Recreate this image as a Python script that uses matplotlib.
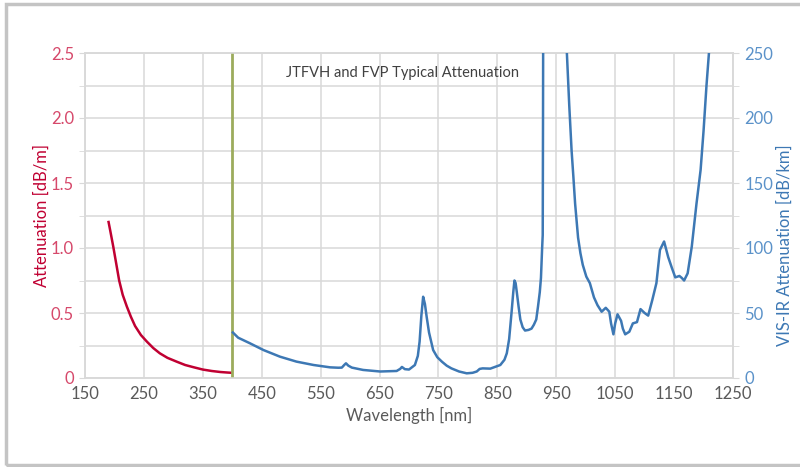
import matplotlib
matplotlib.use("Agg")
import matplotlib.pyplot as plt
from matplotlib.patches import Rectangle
from matplotlib.ticker import MultipleLocator, FuncFormatter

plt.rcParams['font.family'] = ['Lato', 'DejaVu Sans']

# 紫外域 (dB/m)
red_wl = [190, 193, 198, 203, 208, 214, 221, 228, 235, 245, 255, 266, 277, 290,
          306, 320, 335, 350, 365, 380, 392, 399]
red_val = [1.20, 1.13, 1.01, 0.88, 0.75, 0.64, 0.55, 0.47, 0.40, 0.33, 0.28, 0.23,
           0.19, 0.155, 0.125, 0.10, 0.082, 0.065, 0.054, 0.046, 0.042, 0.040]

# 可視-赤外域 (dB/km)
blue_wl = [401, 410, 430, 453, 481, 509, 538, 566, 580, 586, 590, 593, 597, 603,
           622, 651, 679, 685, 688, 693, 700, 710, 715, 718, 721, 724, 727, 730,
           734, 741, 748, 756, 764, 772, 785, 798, 808, 815, 820, 825, 838, 855,
           862, 866, 870, 874, 877, 879, 881, 883, 886, 889, 893, 897, 903, 908,
           912, 916, 919, 922, 924, 926, 927, 927.5, 928, 966, 968, 972, 976, 979,
           982, 987, 991, 995, 1001, 1007, 1014, 1020, 1027, 1034, 1040, 1043,
           1047, 1050, 1054, 1060, 1063, 1067, 1074, 1080, 1087, 1093, 1100, 1106,
           1113, 1120, 1126, 1133, 1140, 1146, 1152, 1159, 1163, 1167, 1173, 1180,
           1188, 1195, 1200, 1205, 1210, 1213]
blue_val = [35, 31, 26.7, 21.5, 16.4, 12.6, 10, 8.2, 7.9, 8, 10, 11.3, 9.5, 8,
            6.2, 5, 5.4, 7, 8.5, 6.8, 6.5, 10, 17, 28, 48, 62.5, 57, 47,
            35, 21.5, 16, 12.5, 9.5, 7.4, 5, 3.6, 4, 5, 7, 7.4, 7.2, 10,
            14, 19, 30, 50, 66, 75, 73, 66, 55, 45, 39, 36.5, 37, 38,
            41, 45, 55, 66, 77, 100, 110, 200, 320, 320, 250, 210, 175, 155,
            134, 108, 96, 87, 78, 73, 62, 56, 51, 54, 51, 42,
            33.6, 42, 49, 44, 38, 33.6, 35.6, 42, 43, 53, 50, 48,
            60, 73, 98.5, 105, 93, 85, 77.4, 78.5, 77, 75, 80.5, 101,
            134, 160, 190, 225, 255, 290]

x_ticks = [150, 250, 350, 450, 550, 650, 750, 850, 950, 1050, 1150, 1250]
divider_wl = 400

RED = '#C00032'
RED_TXT = '#D6496B'
BLUE = '#3D78B4'
BLUE_TXT = '#5B92C9'
GRID = '#D9D9D9'
TXT = '#5A5A5A'

fig = plt.figure(figsize=(8, 4.67), dpi=100)
ax = fig.add_axes([85/800, 89/467, 648/800, 325/467])
ax2 = ax.twinx()

# 外枠
fig.patches.append(Rectangle((6/800, 2/467), 1.0, 461/467, transform=fig.transFigure,
                             fill=False, edgecolor='#C4C4C4', lw=2.5, zorder=0))

ax.set_xlim(150, 1250)
ax.set_ylim(0, 2.5)
ax2.set_ylim(0, 250)
ax.set_xticks(x_ticks)
ax.yaxis.set_major_locator(MultipleLocator(0.5))
ax.yaxis.set_minor_locator(MultipleLocator(0.25))
ax.yaxis.set_major_formatter(FuncFormatter(lambda v, p: '0' if v == 0 else f'{v:.1f}'))
ax2.yaxis.set_major_locator(MultipleLocator(50))
ax2.yaxis.set_minor_locator(MultipleLocator(25))

ax.grid(True, which='both', color=GRID, lw=1.1)
ax.set_axisbelow(True)
for a in (ax, ax2):
    for s in a.spines.values():
        s.set_color(GRID)
        s.set_linewidth(1.1)

ax.tick_params(axis='x', color=GRID, labelcolor=TXT, labelsize=12, length=0, pad=6)
ax.tick_params(axis='y', which='both', color=GRID, labelcolor=RED_TXT, labelsize=12,
               length=4, pad=4)
ax2.tick_params(axis='y', which='both', color=GRID, labelcolor=BLUE_TXT, labelsize=12,
                length=4, pad=4)

ax.plot(red_wl, red_val, color=RED, lw=1.8, zorder=3)
ax.axvline(divider_wl, color='#9CAB5C', lw=2.0, zorder=4)
ax2.plot(blue_wl, blue_val, color=BLUE, lw=1.8, zorder=3)

ax.set_xlabel('Wavelength [nm]', color=TXT, fontsize=12, labelpad=3)
ax.set_ylabel('Attenuation [dB/m]', color=RED, fontsize=12)
ax.yaxis.set_label_coords(-0.054, 0.5)
ax2.set_ylabel('VIS-IR Attenuation [dB/km]', color=BLUE, fontsize=12)
ax2.yaxis.set_label_coords(1.067, 0.41)

ax.text(0.49, 0.94, 'JTFVH and FVP Typical Attenuation', transform=ax.transAxes,
        ha='center', va='center', fontsize=10.5, color='#404040')

fig.savefig('out.png', dpi=100)
